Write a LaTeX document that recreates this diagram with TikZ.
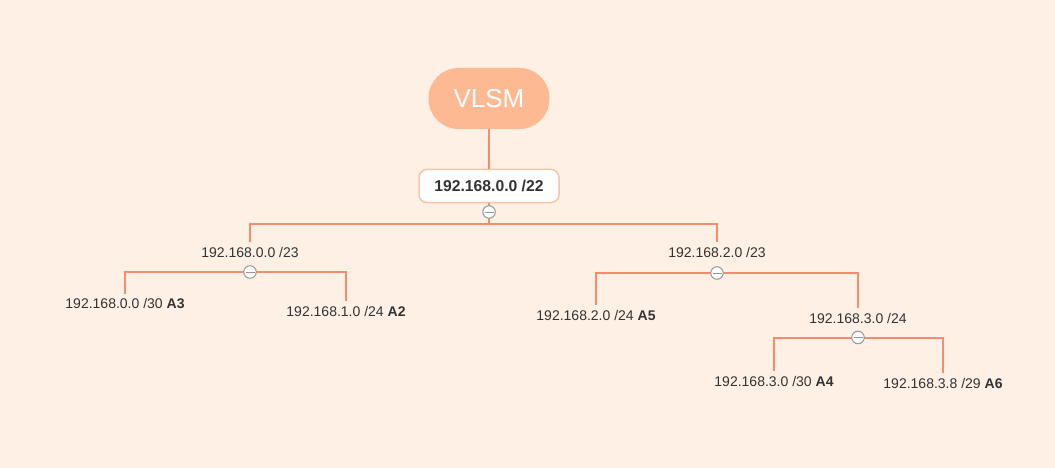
\documentclass[tikz,border=0pt]{standalone}
\usepackage{fontspec}
\setmainfont{Liberation Sans}
\definecolor{bg}{RGB}{254,240,229}
\definecolor{linec}{RGB}{246,140,110}
\definecolor{topfill}{RGB}{253,186,146}
\definecolor{rootborder}{RGB}{249,196,164}
\definecolor{txt}{RGB}{51,51,51}
\definecolor{collgray}{RGB}{150,150,150}
\tikzset{
  conn/.style={draw=linec, line width=2pt},
  topic/.style={text=txt, font=\fontsize{14}{16}\selectfont, inner sep=2pt, outer sep=3pt},
  collapse/.style={circle, draw=collgray, fill=white, line width=1pt, minimum size=12.5pt, inner sep=0pt,
    path picture={\draw[collgray, line width=1pt] ([xshift=-4.5pt]path picture bounding box.center) -- ([xshift=4.5pt]path picture bounding box.center);}},
}
\begin{document}
\begin{tikzpicture}[x=1pt,y=-1pt]
\fill[bg] (0,0) rectangle (1055,468);
\useasboundingbox (0,0) rectangle (1055,468);
% nodes
\node[fill=topfill, rounded corners=30pt, minimum width=121pt, minimum height=61pt, text=white, font=\fontsize{26}{28}\selectfont, inner sep=0pt] (vlsm) at (489,98.5) {VLSM};
\node[draw=rootborder, line width=1.5pt, fill=white, rounded corners=8pt, minimum width=140pt, minimum height=33pt, text=txt, font=\fontsize{15.7}{18}\selectfont\bfseries, inner sep=0pt] (root) at (489,186) {192.168.0.0 /22};
\node[topic] (n1) at (250,252) {192.168.0.0 /23};
\node[topic] (n2) at (717,252) {192.168.2.0 /23};
\node[topic] (l3) at (125,304) {192.168.0.0 /30 \textbf{A3}};
\node[topic] (l2) at (346,311) {192.168.1.0 /24 \textbf{A2}};
\node[topic] (l5) at (596,315) {192.168.2.0 /24 \textbf{A5}};
\node[topic] (n3) at (858,318) {192.168.3.0 /24};
\node[topic] (l4) at (774,381) {192.168.3.0 /30 \textbf{A4}};
\node[topic] (l6) at (943,383) {192.168.3.8 /29 \textbf{A6}};
% branch points
\coordinate (b0) at (489,224);
\coordinate (k1) at (250,272);
\coordinate (k2) at (717,273);
\coordinate (k3) at (858,337.5);
% connectors
\draw[conn] (vlsm.south) -- (root.north);
\draw[conn] (root.south) -- (b0);
\draw[conn] (b0) -| (n1.north);
\draw[conn] (b0) -| (n2.north);
\draw[conn] (k1) -| (l3.north);
\draw[conn] (k1) -| (l2.north);
\draw[conn] (k2) -| (l5.north);
\draw[conn] (k2) -| (n3.north);
\draw[conn] (k3) -| (l4.north);
\draw[conn] (k3) -| (l6.north);
% collapse markers
\node[collapse] (c0) at (489,212) {};
\node[collapse] (c1) at (k1) {};
\node[collapse] (c2) at (k2) {};
\node[collapse] (c3) at (k3) {};
\end{tikzpicture}
\end{document}
